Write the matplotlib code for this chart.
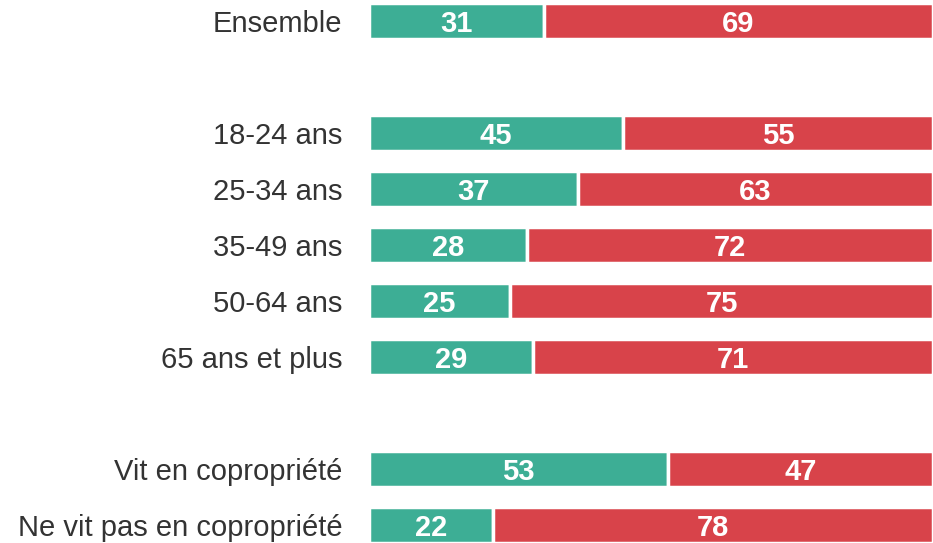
import numpy as np
import matplotlib.pyplot as plt

plt.rcParams['font.family'] = ['Liberation Sans', 'DejaVu Sans']

# row labels, blank rows are the gaps between groups
categories = ['Ensemble', '', '18-24 ans', '25-34 ans', '35-49 ans', '50-64 ans',
              '65 ans et plus', '', 'Vit en copropriété', 'Ne vit pas en copropriété']
oui = [31, None, 45, 37, 28, 25, 29, None, 53, 22]
non = [69, None, 55, 63, 72, 75, 71, None, 47, 78]

green = '#3DAE95'
red = '#D8434A'

fig = plt.figure(figsize=(9.33, 5.43), dpi=100)
ax = fig.add_axes([369/933, 0, 1 - 369/933, 1])

rows = [i for i, v in enumerate(oui) if v is not None]
g = np.array([oui[i] for i in rows])
r = np.array([non[i] for i in rows])
h = 0.63

ax.barh(rows, g, height=h, color=green, edgecolor='white', linewidth=2.5)
ax.barh(rows, r, left=g, height=h, color=red, edgecolor='white', linewidth=2.5)

for y, a, b in zip(rows, g, r):
    ax.text(a/2, y, str(a), ha='center', va='center_baseline', color='white',
            fontsize=21, fontweight='bold')
    ax.text(a + b/2, y, str(b), ha='center', va='center_baseline', color='white',
            fontsize=21, fontweight='bold')

ax.set_xlim(0, 100)
ax.set_ylim(9 + 18/56, -21/56)
ax.set_yticks(rows)
ax.set_yticklabels([categories[i] for i in rows], fontsize=21, color='#333333')
ax.tick_params(axis='y', length=0, pad=19)
ax.set_xticks([])
for s in ax.spines.values():
    s.set_visible(False)

fig.savefig('out.png', dpi=100)
